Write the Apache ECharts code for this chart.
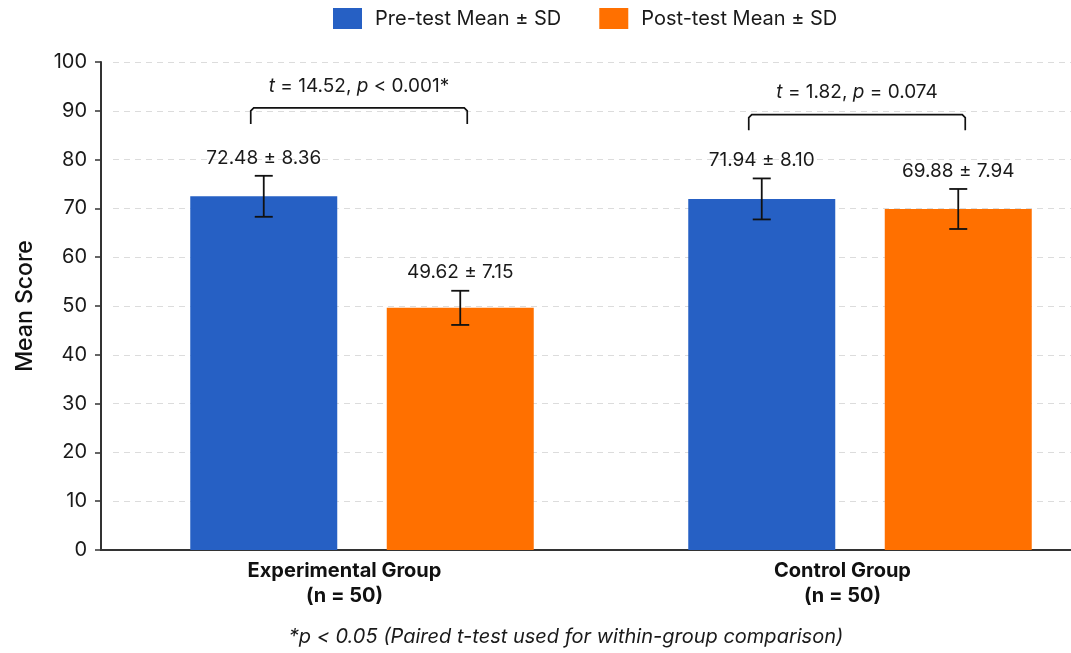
<!DOCTYPE html>
<html><head><meta charset="utf-8">
<script src="https://cdn.jsdelivr.net/npm/echarts@6/dist/echarts.min.js"></script>
<style>html,body{margin:0;padding:0;background:#fff}#c{width:1071px;height:653px}</style>
</head><body><div id="c"></div>
<script>
// ---- data ----
const categories = ['Experimental Group\n(n = 50)', 'Control Group\n(n = 50)'];
const seriesNames = ['Pre-test Mean \u00b1 SD', 'Post-test Mean \u00b1 SD'];
const preMean = [72.48, 71.94];
const preSD = [8.36, 8.10];
const postMean = [49.62, 69.88];
const postSD = [7.15, 7.94];
// half-length of the drawn error whiskers
const preErr = [4.2, 4.2];
const postErr = [3.5, 4.1];
// paired t-test annotations
const testT = ['14.52', '1.82'];
const testP = ['< 0.001*', '= 0.074'];
const bracketTop = [90.6, 89.2];
const bracketLeg = [87.3, 86.0];
const yMin = 0, yMax = 100, yStep = 10;
const footnote = '*p < 0.05 (Paired t-test used for within-group comparison)';

// ---- style ----
const FONT = 'Inter';
const BLUE = '#2660C4', ORANGE = '#FF7000';
const BAR_W = 147, BAR_GAP = 49.5;
const OFF = (BAR_W + BAR_GAP) / 2;

const chart = echarts.init(document.getElementById('c'));

function errRender(means, sds, errs, offset) {
  return function (params, api) {
    const i = params.dataIndex;
    const idx = api.value(0);
    const m = means[i], e = errs[i];
    const top = api.coord([idx, m + e]);
    const bot = api.coord([idx, m - e]);
    const x = top[0] + offset;
    const cap = 9;
    const ls = { stroke: '#111', lineWidth: 1.8 };
    return {
      type: 'group',
      children: [
        { type: 'line', shape: { x1: x, y1: top[1], x2: x, y2: bot[1] }, style: ls },
        { type: 'line', shape: { x1: x - cap, y1: top[1], x2: x + cap, y2: top[1] }, style: ls },
        { type: 'line', shape: { x1: x - cap, y1: bot[1], x2: x + cap, y2: bot[1] }, style: ls },
        { type: 'text', x: x, y: top[1] - 18,
          style: { text: m.toFixed(2) + ' \u00b1 ' + sds[i].toFixed(2), align: 'center', verticalAlign: 'middle',
                   fontFamily: FONT, fontSize: 19, fill: '#1a1a1a' } }
      ]
    };
  };
}

function bracketRender(params, api) {
  const i = params.dataIndex;
  const idx = api.value(0);
  const t = api.coord([idx, bracketTop[i]]);
  const l = api.coord([idx, bracketLeg[i]]);
  const x1 = t[0] - OFF - 13, x2 = t[0] + OFF + 7;
  const r = 3;
  return {
    type: 'group',
    children: [
      { type: 'polyline', shape: { points: [[x1, l[1]], [x1, t[1] + r], [x1 + r, t[1]], [x2 - r, t[1]], [x2, t[1] + r], [x2, l[1]]] },
        style: { stroke: '#111', lineWidth: 1.7, fill: null } },
      { type: 'text', x: (x1 + x2) / 2, y: t[1] - 22,
        style: { text: '{i|t} = ' + testT[i] + ', {i|p} ' + testP[i], align: 'center', verticalAlign: 'middle',
                 fontFamily: FONT, fontSize: 19, fill: '#1a1a1a',
                 rich: { i: { fontStyle: 'italic', fontFamily: FONT, fontSize: 19, fill: '#1a1a1a' } } } }
    ]
  };
}

const option = {
  animation: false,
  backgroundColor: '#fff',
  legend: {
    data: seriesNames,
    top: 8, left: 333, padding: 0,
    itemWidth: 29, itemHeight: 21, itemGap: 38,
    icon: 'rect',
    textStyle: { fontFamily: FONT, fontSize: 20, color: '#1a1a1a', padding: [0, 0, 0, 8] }
  },
  grid: { left: 113, width: 996, top: 62, bottom: 103, containLabel: false, outerBoundsMode: 'none' },
  xAxis: {
    type: 'category',
    data: categories,
    axisLine: { lineStyle: { color: '#333', width: 2 } },
    axisTick: { show: false },
    axisLabel: { fontFamily: FONT, fontSize: 20, fontWeight: 'bold', color: '#111', lineHeight: 25, margin: 8,
                 padding: [0, 35, 0, 0] },
    splitLine: { show: false }
  },
  yAxis: {
    type: 'value', min: yMin, max: yMax, interval: yStep,
    offset: 12,
    name: 'Mean Score', nameLocation: 'middle', nameGap: 64,
    nameTextStyle: { fontFamily: FONT, fontSize: 23, fontWeight: 500, color: '#111' },
    axisLine: { show: true, lineStyle: { color: '#333', width: 2 } },
    axisTick: { show: true, length: 6, lineStyle: { color: '#333', width: 1.5 } },
    axisLabel: { fontFamily: FONT, fontSize: 20, color: '#1a1a1a', margin: 14 },
    splitLine: { lineStyle: { color: '#dcdcdc', type: [6, 5], width: 1 } }
  },
  series: [
    { name: seriesNames[0], type: 'bar', data: preMean, barWidth: BAR_W, barGap: (BAR_GAP / BAR_W * 100) + '%',
      itemStyle: { color: BLUE } },
    { name: seriesNames[1], type: 'bar', data: postMean, barWidth: BAR_W,
      itemStyle: { color: ORANGE } },
    { type: 'custom', z: 5, renderItem: errRender(preMean, preSD, preErr, -OFF),
      data: categories.map((c, i) => [i, preMean[i]]) },
    { type: 'custom', z: 5, renderItem: errRender(postMean, postSD, postErr, OFF),
      data: categories.map((c, i) => [i, postMean[i]]) },
    { type: 'custom', z: 5, renderItem: bracketRender,
      data: categories.map((c, i) => [i, bracketTop[i]]) }
  ],
  graphic: [
    { type: 'text', x: 566, y: 637,
      style: { text: footnote, align: 'center', verticalAlign: 'middle', fontFamily: FONT, fontSize: 20,
               fontStyle: 'italic', fill: '#1a1a1a' } }
  ]
};
chart.setOption(option);
// close the corner between the offset y-axis and the x-axis line
const y0 = chart.convertToPixel({ yAxisIndex: 0 }, 0);
chart.setOption({ graphic: [
  option.graphic[0],
  { type: 'line', shape: { x1: 100, y1: y0, x2: 114, y2: y0 }, style: { stroke: '#333', lineWidth: 2 } }
] });
</script></body></html>
